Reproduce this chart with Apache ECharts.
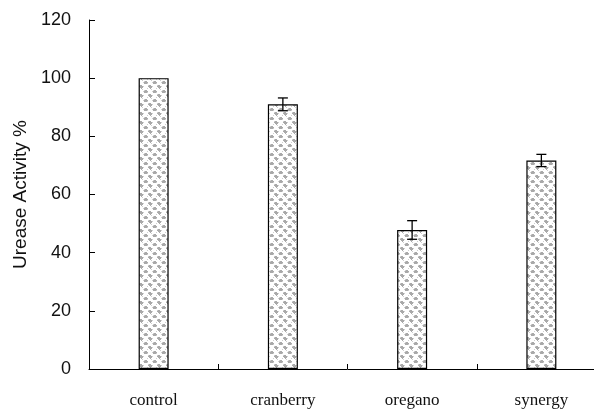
<!DOCTYPE html>
<html>
<head>
<meta charset="utf-8">
<script src="https://cdn.jsdelivr.net/npm/echarts@6/dist/echarts.min.js"></script>
<style>html,body{margin:0;padding:0;background:#fff;overflow:hidden;width:594px;height:409px}#c{width:606px;height:409px}</style>
</head>
<body>
<div id="c"></div>
<script>
const categories = ['control', 'cranberry', 'oregano', 'synergy'];
const values = [100, 91, 47.8, 71.7];
const errors = [0, 2.2, 3.2, 2.1];
const yTicks = { min: 0, max: 120, interval: 20 };

function makePattern() {
  const cv = document.createElement('canvas');
  cv.width = 9; cv.height = 9;
  const ctx = cv.getContext('2d');
  ctx.fillStyle = '#ffffff';
  ctx.fillRect(0, 0, 9, 9);
  ctx.fillStyle = '#a9a9a9';
  const pts = [[1,0],[2,0],[0,1],[1,1],[2,1],[3,1],[1,2],[2,2],[0,2],
               [5,4],[6,4],[4,5],[5,5],[6,5],[7,5],[5,6],[6,6],[7,6],[6,7]];
  pts.forEach(p => ctx.fillRect(p[0], p[1], 1, 1));
  ctx.fillStyle = '#cfcfcf';
  [[3,2],[4,4],[8,5],[0,0],[7,8],[3,7],[8,1]].forEach(p => ctx.fillRect(p[0], p[1], 1, 1));
  return cv;
}

const chart = echarts.init(document.getElementById('c'), null, { renderer: 'canvas' });
const errData = categories.map((c, i) => [i, values[i], errors[i]]).filter(d => d[2] > 0);

chart.setOption({
  animation: false,
  backgroundColor: '#fff',
  grid: { left: 89, top: 20, right: 0, bottom: 40, containLabel: false },
  xAxis: {
    type: 'category',
    data: categories,
    axisLine: { show: true, lineStyle: { color: '#000', width: 1 } },
    axisTick: { show: true, inside: true, length: 5, lineStyle: { color: '#000' } },
    axisLabel: { fontFamily: 'Liberation Serif', fontSize: 17, color: '#111', margin: 23 },
    splitLine: { show: false }
  },
  yAxis: {
    type: 'value',
    min: yTicks.min, max: yTicks.max, interval: yTicks.interval,
    name: 'Urease Activity %',
    nameLocation: 'middle',
    nameGap: 55,
    nameTextStyle: { fontFamily: 'Liberation Sans', fontSize: 19, color: '#111' },
    axisLine: { show: true, lineStyle: { color: '#000', width: 1 } },
    axisTick: { show: true, inside: true, length: 6, lineStyle: { color: '#000' } },
    axisLabel: { fontFamily: 'Liberation Sans', fontSize: 18, color: '#111', margin: 18 },
    splitLine: { show: false }
  },
  series: [
    {
      type: 'bar',
      data: values,
      barWidth: 30,
      itemStyle: {
        color: { image: makePattern(), repeat: 'repeat' },
        borderColor: '#000',
        borderWidth: 1.2
      }
    },
    {
      type: 'custom',
      data: errData,
      z: 10,
      renderItem: function (params, api) {
        const x = api.value(0), v = api.value(1), e = api.value(2);
        const top = api.coord([x, v + e]);
        const bot = api.coord([x, v - e]);
        const hw = 5;
        const style = { stroke: '#000', lineWidth: 1.3 };
        return {
          type: 'group',
          children: [
            { type: 'line', shape: { x1: top[0], y1: top[1], x2: bot[0], y2: bot[1] }, style: style },
            { type: 'line', shape: { x1: top[0] - hw, y1: top[1], x2: top[0] + hw, y2: top[1] }, style: style },
            { type: 'line', shape: { x1: bot[0] - hw, y1: bot[1], x2: bot[0] + hw, y2: bot[1] }, style: style }
          ]
        };
      }
    }
  ]
});
</script>
</body>
</html>
